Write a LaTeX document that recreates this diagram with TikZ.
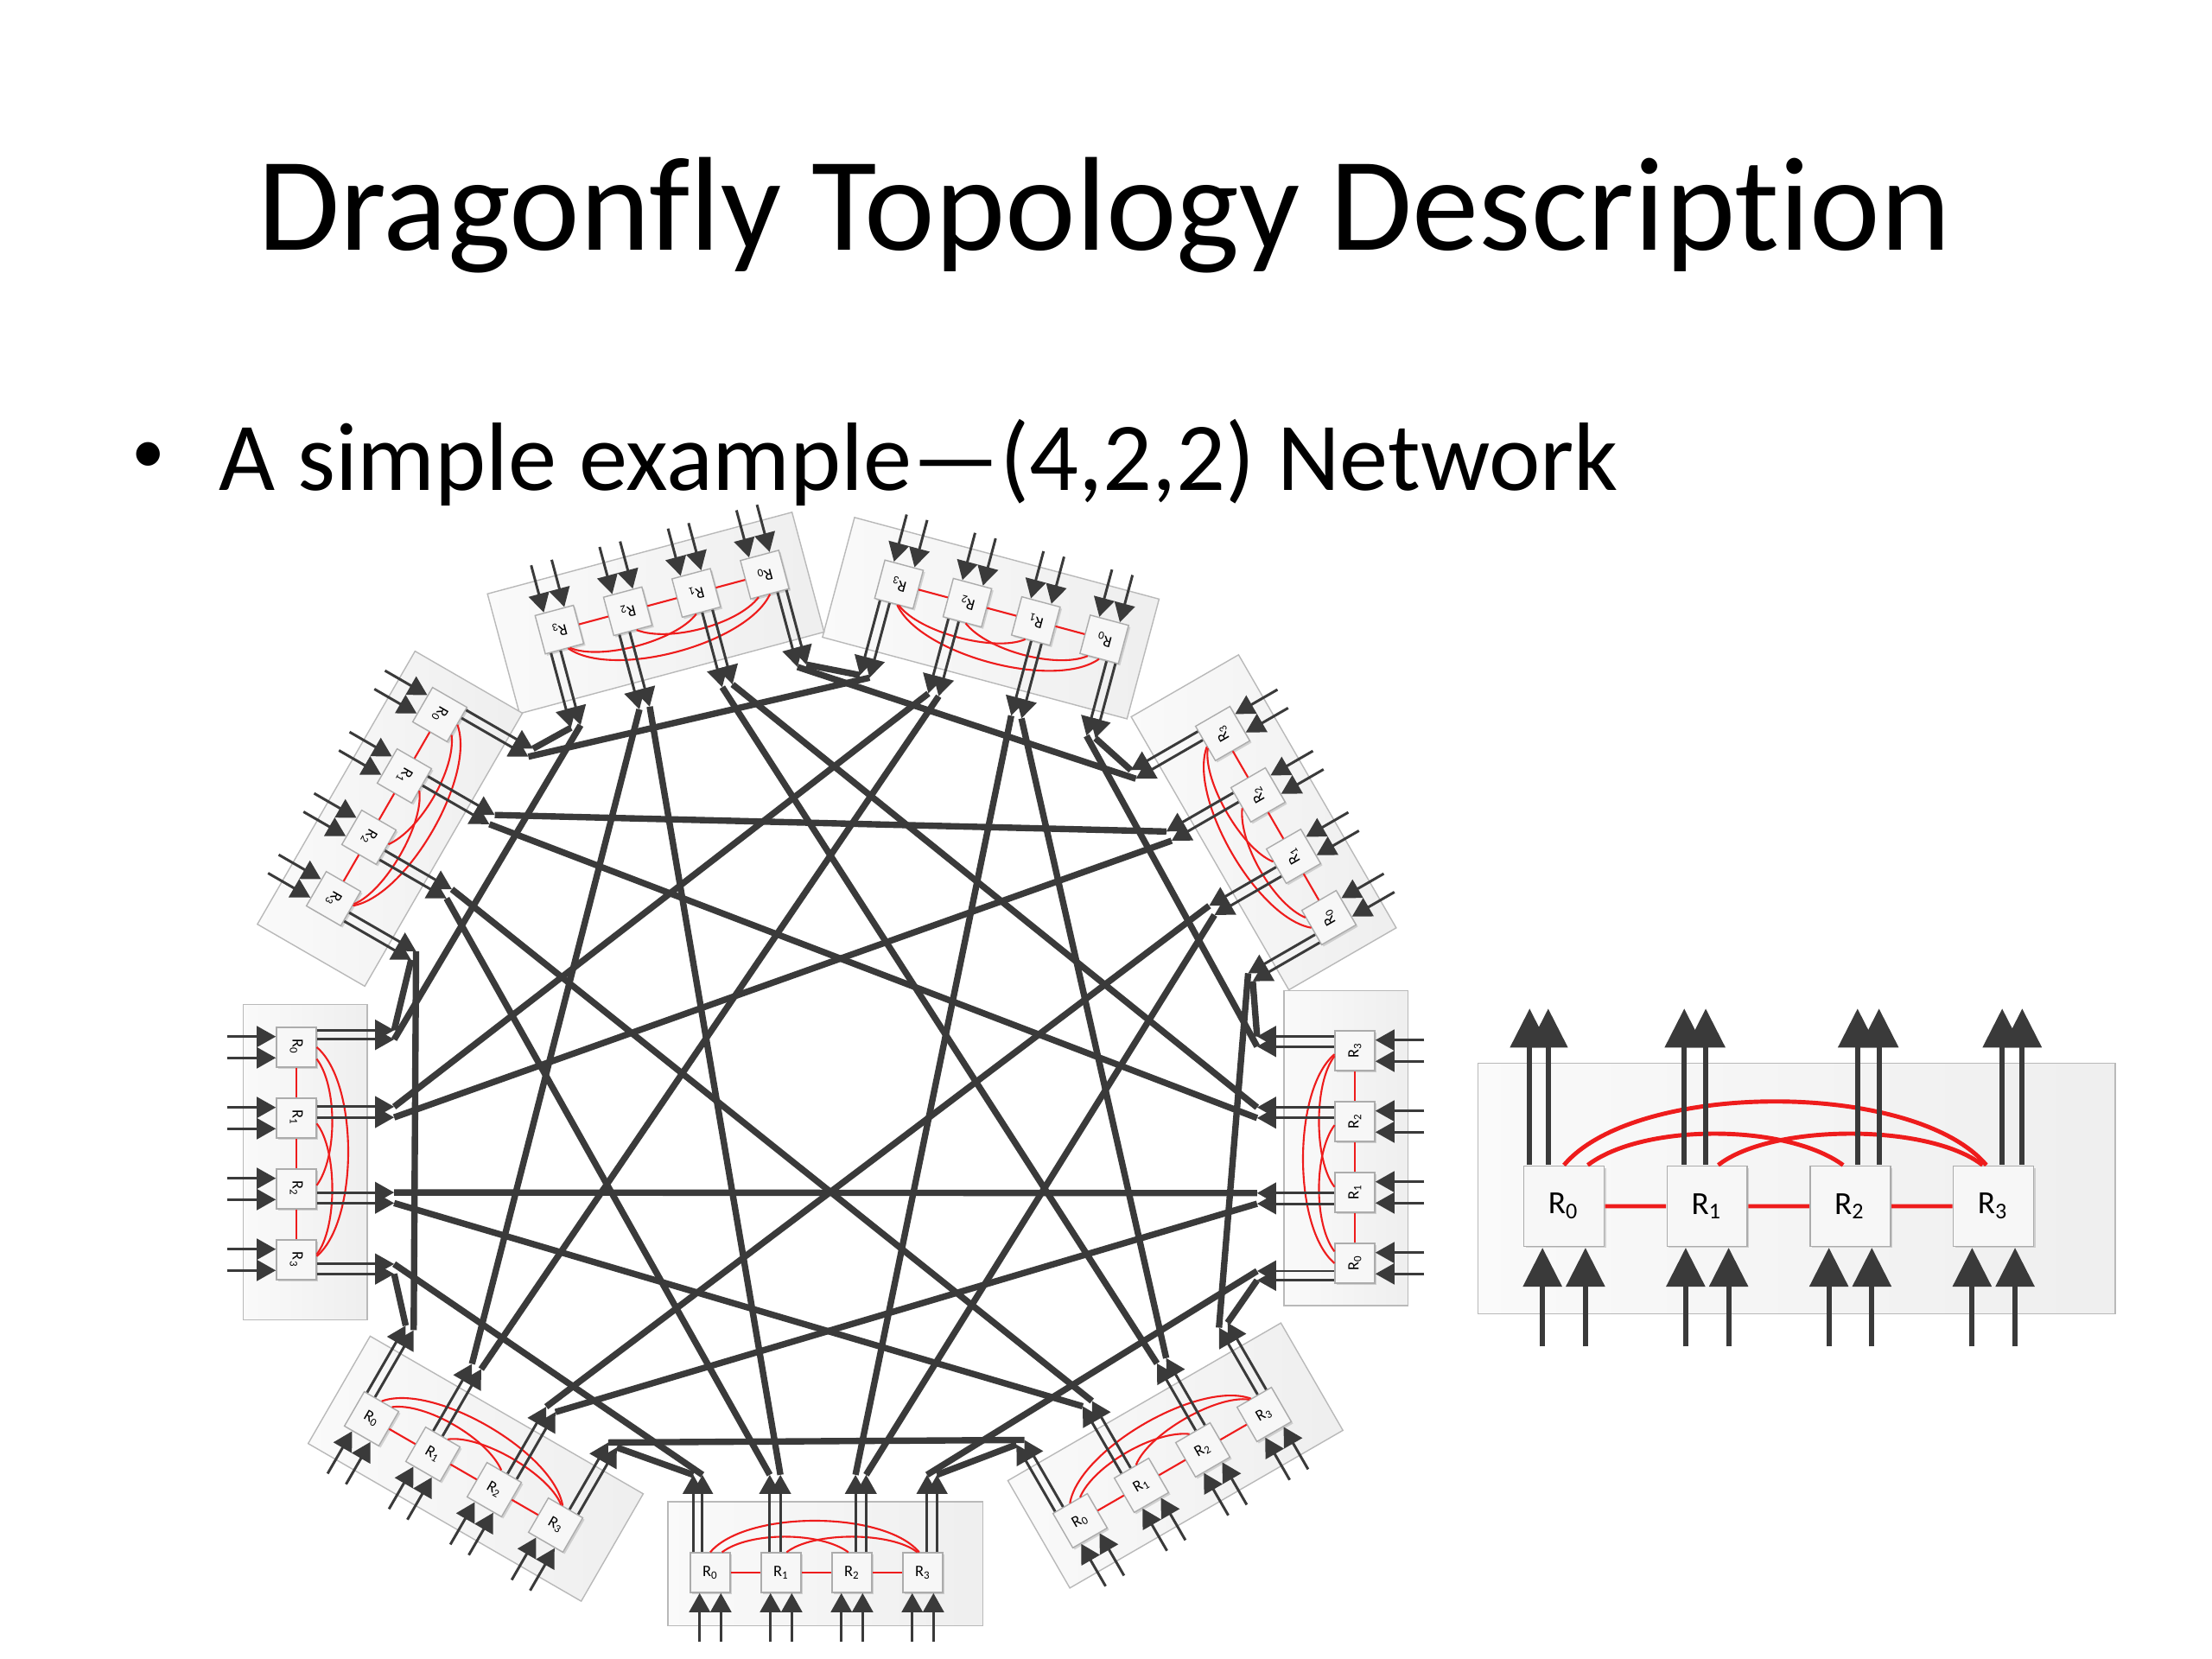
\documentclass[tikz,border=0pt]{standalone}
\usepackage{fontspec}
\setmainfont{Carlito}[Ligatures=NoCommon]
\usetikzlibrary{arrows.meta,shadows}
\definecolor{wire}{HTML}{3A3A3A}
\definecolor{lred}{HTML}{EE1C1C}

\tikzset{
  router/.style={draw=gray!65,fill=gray!6,minimum size=5.6mm,inner sep=0pt,
    font=\fontsize{6.4}{7}\selectfont,
    drop shadow={shadow xshift=0.6pt,shadow yshift=-0.6pt,opacity=0.3}},
  grpbox/.style={draw=gray!55,line width=0.4pt,left color=gray!4,right color=gray!13},
  glink/.style={draw=wire,line width=0.85pt,-{Triangle[length=2.2mm,width=2.4mm]}},
  tlink/.style={draw=wire,line width=0.85pt,-{Triangle[length=2.2mm,width=2.4mm]}},
  loc/.style={draw=lred,line width=0.6pt},
  ring/.style={draw=wire,line width=2.1pt,line join=round},
  pics/dfgroup/.style={code={
    \draw[grpbox] (-0.6,-0.75) rectangle (3.85,1.0);
    \foreach \i in {0,...,3}
      \node[router] (-r\i) at (\i,0) {R\textsubscript{\i}};
    % local links
    \draw[loc] (-r0) -- (-r1) (-r1) -- (-r2) (-r2) -- (-r3);
    \draw[loc] (-r0.north) .. controls (0.5,0.88) and (2.45,0.88) .. (-r3.100);
    \draw[loc] (-r0.60) .. controls (0.55,0.58) and (1.55,0.58) .. (-r2.100);
    \draw[loc] (-r1.75) .. controls (1.45,0.58) and (2.55,0.58) .. (-r3.105);
    % global and terminal ports
    \foreach \i/\a/\b in {0/-0.24/-0.11,1/-0.16/-0.01,2/0.05/0.2,3/0.06/0.2}{
      \pgfmathtruncatemacro\ja{2*\i}
      \pgfmathtruncatemacro\jb{2*\i+1}
      \coordinate (-b\ja) at (\i+\a,0.29);
      \coordinate (-p\ja) at (\i+\a,1.38);
      \coordinate (-b\jb) at (\i+\b,0.29);
      \coordinate (-p\jb) at (\i+\b,1.38);
      \coordinate (-s\ja) at (\i-0.15,-0.98);
      \coordinate (-e\ja) at (\i-0.15,-0.29);
      \coordinate (-s\jb) at (\i+0.15,-0.98);
      \coordinate (-e\jb) at (\i+0.15,-0.29);
      \draw[glink] (-b\ja) -- (-p\ja);
      \draw[glink] (-b\jb) -- (-p\jb);
      \draw[tlink] (-s\ja) -- (-e\ja);
      \draw[tlink] (-s\jb) -- (-e\jb);
    }
  }}
}

\begin{document}
\begin{tikzpicture}
  \useasboundingbox (0,0) rectangle (25.6,19.2);

  \node[anchor=base,inner sep=0pt] (title) at (12.78,16.30)
    {\fontsize{44}{52}\selectfont Dragonfly Topology Description};
  \node[inner sep=0pt] (dot) at (1.72,13.90)
    {\fontsize{22}{26}\selectfont\textbullet};
  \node[anchor=base west,inner sep=0pt] (item) at (2.53,13.52)
    {\fontsize{32}{38}\selectfont A simple example—(4,2,2) Network};

  % the nine groups
  \foreach \g/\x/\y/\r in {0/8.22/1.00/0, 1/12.50/1.60/30, 2/15.68/4.58/90,
      3/15.38/8.58/120, 4/12.78/11.80/165, 5/8.85/12.55/195,
      6/5.09/10.93/240, 7/3.43/7.08/270, 8/4.30/2.78/330}{
    \begin{scope}[shift={(\x,\y)},rotate=\r,scale=0.82,transform shape]
      \pic (G\g) at (0,0) {dfgroup};
    \end{scope}
  }

  % global links
  \foreach \g in {0,...,8}{
    \foreach \j in {0,...,3}{
      \pgfmathtruncatemacro\h{mod(\g-\j-1+9,9)}
      \pgfmathtruncatemacro\k{7-\j}
      \draw[ring] (G\g-p\j) -- (G\h-p\k);
    }
  }

  % one group, enlarged
  \begin{scope}[shift={(18.10,5.24)},scale=1.657,transform shape,
      glink/.style={draw=wire,line width=1.7pt,-{Triangle[length=4.5mm,width=4.4mm]}},
      tlink/.style={draw=wire,line width=1.7pt,-{Triangle[length=4.5mm,width=4.4mm]}},
      loc/.style={draw=lred,line width=1.4pt}]
    \pic (B) at (0,0) {dfgroup};
  \end{scope}
\end{tikzpicture}
\end{document}
